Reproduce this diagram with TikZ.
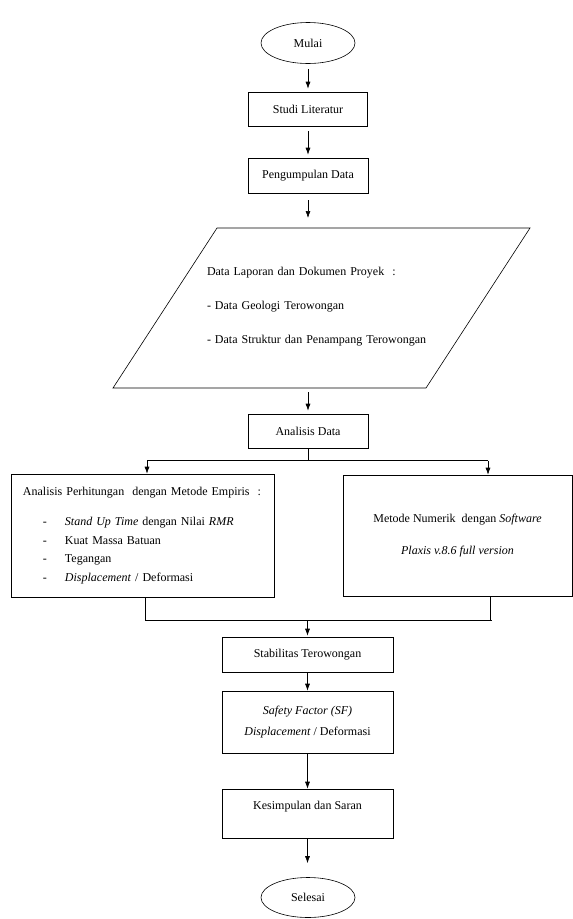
\documentclass[tikz,border=0pt]{standalone}
\usepackage{fontspec}
\setmainfont{Liberation Serif}
\usetikzlibrary{shapes.geometric,arrows.meta}
\begin{document}
\begin{tikzpicture}[x=1pt,y=-1pt,line width=0.6pt,
  every node/.style={font=\fontsize{12}{14}\selectfont,inner sep=0pt},
  box/.style={draw,rectangle},
  term/.style={draw,ellipse,minimum width=94pt,minimum height=41pt},
  tip/.style={-{Latex[length=7pt,width=5pt]}},
  arr/.style={tip,shorten <=5pt,shorten >=3pt}]
\useasboundingbox (0,0) rectangle (573,919);
\node[term] (mulai) at (308,43) {Mulai};
\node[box,minimum width=119pt,minimum height=34pt] (studi) at (308,109) {Studi Literatur};
\node[box,minimum width=120pt,minimum height=35pt] (kumpul) at (308,175.5) {Pengumpulan Data};
% data proyek
\coordinate (pbl) at (113,388);
\coordinate (pbr) at (426,388);
\coordinate (ptr) at (530,228);
\coordinate (ptl) at (217,228);
\draw (pbl)--(pbr)--(ptr)--(ptl)--cycle;
\node[align=left,text width=232pt,font=\fontsize{12}{34}\selectfont] (proyek) at (323,307)
  {Data Laporan dan Dokumen Proyek~~:\\ - Data Geologi Terowongan\\ - Data Struktur dan Penampang Terowongan};
\node[box,minimum width=120pt,minimum height=34pt] (data) at (308,431) {Analisis Data};
\node[box,minimum width=263pt,minimum height=123pt,align=left,text width=239pt,
  font=\fontsize{12}{18.5}\selectfont] (empiris) at (142.5,535.5)
  {Analisis Perhitungan~~dengan Metode Empiris~~:\\[11.5pt]
   \hspace*{20pt}-\hspace*{18pt}\textit{Stand Up Time} dengan Nilai~\textit{RMR}\\
   \hspace*{20pt}-\hspace*{18pt}Kuat Massa Batuan\\
   \hspace*{20pt}-\hspace*{18pt}Tegangan\\
   \hspace*{20pt}-\hspace*{18pt}\textit{Displacement} / Deformasi};
\node[box,minimum width=229pt,minimum height=121pt,align=center,
  font=\fontsize{12}{32}\selectfont] (numerik) at (457.5,535.5)
  {Metode Numerik~~dengan \textit{Software}\\ \textit{Plaxis v.8.6 full version}};
\node[box,minimum width=171pt,minimum height=35pt] (stabil) at (307.5,654.5) {Stabilitas Terowongan};
\node[box,minimum width=171pt,minimum height=62pt,align=center,
  font=\fontsize{12}{21}\selectfont] (sf) at (307.5,722)
  {\textit{Safety Factor (SF)}\\ \textit{Displacement} / Deformasi};
\node[box,minimum width=171pt,minimum height=49pt,text depth=16pt] (simpul) at (307.5,813.5) {Kesimpulan dan Saran};
\node[term,minimum height=40pt] (selesai) at (308,897.5) {Selesai};
% cabang dan gabung
\coordinate (bl) at (147,460.5);
\coordinate (br) at (488,460.5);
\coordinate (ml) at (145,620);
\coordinate (mr) at (490,620);
\coordinate (me) at (492,620);
\draw[arr] (mulai.south) -- (mulai.south |- studi.north);
\draw[arr] (studi.south) -- (studi.south |- kumpul.north);
\draw[arr,shorten <=7pt,shorten >=10pt] (kumpul.south) -- (kumpul.south |- ptl);
\draw[arr,shorten <=4pt] (kumpul.south |- pbl) -- (data.north);
\draw (data.south) -- (data.south |- bl);
\draw (bl) -- (br);
\draw[tip] (bl) -- (bl |- empiris.north);
\draw[tip] (br) -- (br |- numerik.north);
\draw (ml |- empiris.south) -- (ml) -- (me);
\draw (mr |- numerik.south) -- (mr);
\draw[tip,shorten >=1pt] (stabil.north |- ml) -- (stabil.north);
\draw[tip] (stabil) -- (sf);
\draw[tip] (sf) -- (simpul);
\draw[tip,shorten >=14pt] (simpul.south) -- (simpul.south |- selesai.north);
\end{tikzpicture}
\end{document}
